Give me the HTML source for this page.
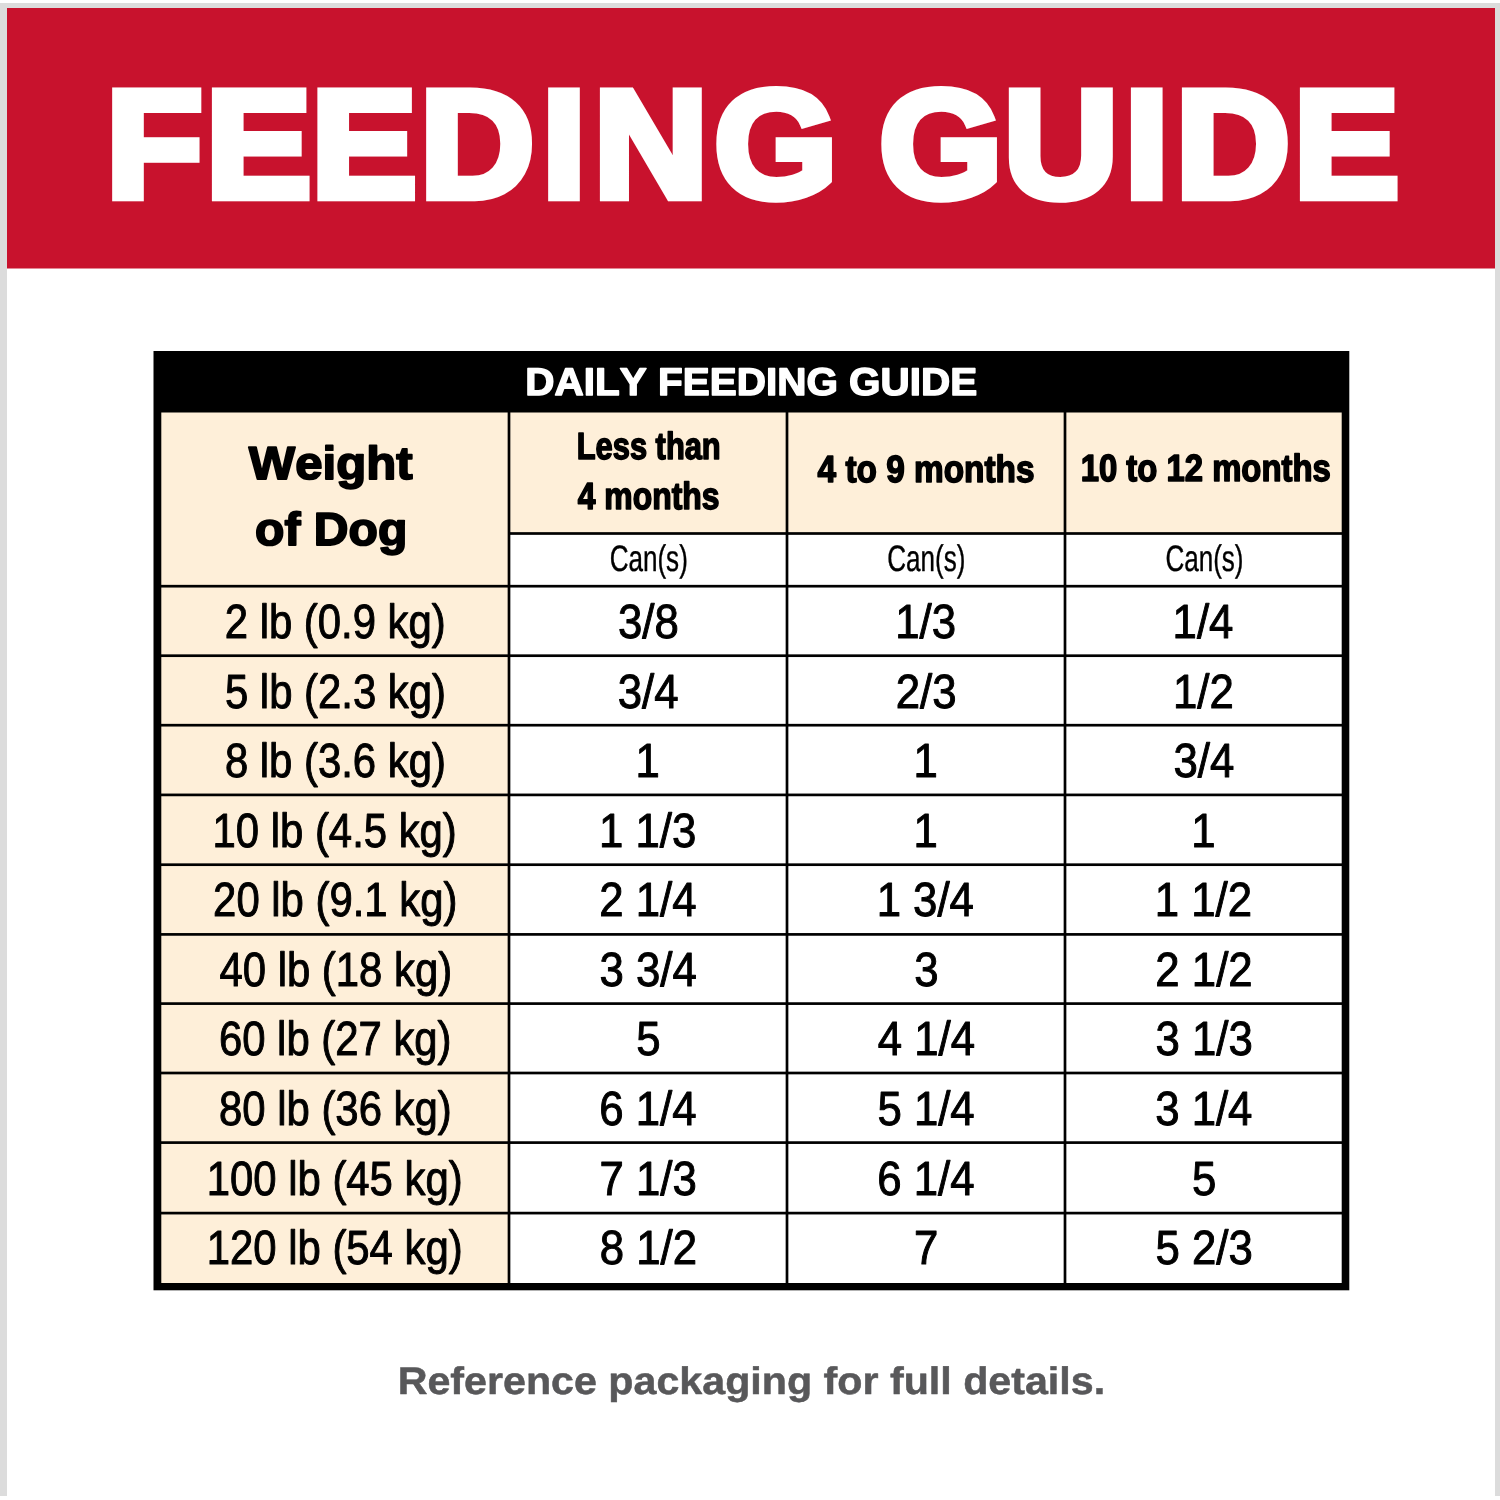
<!DOCTYPE html>
<html><head><meta charset="utf-8"><title>Feeding Guide</title>
<style>
html,body{margin:0;padding:0;background:#fff;}
svg{display:block;font-family:"Liberation Sans",sans-serif;font-kerning:none;text-rendering:geometricPrecision;}
text{white-space:pre;}
</style></head><body>
<svg width="1500" height="1500" viewBox="0 0 1500 1500">
<rect x="0" y="0" width="1500" height="1500" fill="#ffffff"/>
<rect x="0" y="3" width="1500" height="1493" fill="#dcdcdc"/>
<rect x="7" y="8" width="1488" height="1492" fill="#ffffff"/>
<rect x="0" y="1496" width="1500" height="4" fill="#ffffff"/>
<rect x="7" y="8" width="1488" height="260.5" fill="#c8122d"/>
<text transform="scale(1.035 1)" x="102.39 198.72 300.84 405.83 523.69 573.67 690.11 769.82 849.53 969.84 1086.68 1136.12 1249.97" y="197.05" font-size="152.9" font-weight="bold" fill="#fff" stroke="#fff" stroke-width="8.5" stroke-linejoin="miter">FEEDING GUIDE</text>
<rect x="153.5" y="351" width="1195.8" height="939.3" fill="#000"/>
<rect x="161.3" y="412.5" width="346.35" height="172.35" fill="#feefd9"/>
<rect x="510.35" y="412.5" width="275.3" height="119.65" fill="#feefd9"/>
<rect x="510.35" y="534.85" width="275.3" height="50" fill="#fff"/>
<rect x="788.35" y="412.5" width="275.3" height="119.65" fill="#feefd9"/>
<rect x="788.35" y="534.85" width="275.3" height="50" fill="#fff"/>
<rect x="1066.35" y="412.5" width="275.35" height="119.65" fill="#feefd9"/>
<rect x="1066.35" y="534.85" width="275.35" height="50" fill="#fff"/>
<rect x="161.3" y="587.55" width="346.35" height="66.8" fill="#feefd9"/>
<rect x="510.35" y="587.55" width="275.3" height="66.8" fill="#fff"/>
<rect x="788.35" y="587.55" width="275.3" height="66.8" fill="#fff"/>
<rect x="1066.35" y="587.55" width="275.35" height="66.8" fill="#fff"/>
<rect x="161.3" y="657.05" width="346.35" height="66.8" fill="#feefd9"/>
<rect x="510.35" y="657.05" width="275.3" height="66.8" fill="#fff"/>
<rect x="788.35" y="657.05" width="275.3" height="66.8" fill="#fff"/>
<rect x="1066.35" y="657.05" width="275.35" height="66.8" fill="#fff"/>
<rect x="161.3" y="726.55" width="346.35" height="67" fill="#feefd9"/>
<rect x="510.35" y="726.55" width="275.3" height="67" fill="#fff"/>
<rect x="788.35" y="726.55" width="275.3" height="67" fill="#fff"/>
<rect x="1066.35" y="726.55" width="275.35" height="67" fill="#fff"/>
<rect x="161.3" y="796.25" width="346.35" height="67.1" fill="#feefd9"/>
<rect x="510.35" y="796.25" width="275.3" height="67.1" fill="#fff"/>
<rect x="788.35" y="796.25" width="275.3" height="67.1" fill="#fff"/>
<rect x="1066.35" y="796.25" width="275.35" height="67.1" fill="#fff"/>
<rect x="161.3" y="866.05" width="346.35" height="67" fill="#feefd9"/>
<rect x="510.35" y="866.05" width="275.3" height="67" fill="#fff"/>
<rect x="788.35" y="866.05" width="275.3" height="67" fill="#fff"/>
<rect x="1066.35" y="866.05" width="275.35" height="67" fill="#fff"/>
<rect x="161.3" y="935.75" width="346.35" height="66.5" fill="#feefd9"/>
<rect x="510.35" y="935.75" width="275.3" height="66.5" fill="#fff"/>
<rect x="788.35" y="935.75" width="275.3" height="66.5" fill="#fff"/>
<rect x="1066.35" y="935.75" width="275.35" height="66.5" fill="#fff"/>
<rect x="161.3" y="1004.95" width="346.35" height="66.7" fill="#feefd9"/>
<rect x="510.35" y="1004.95" width="275.3" height="66.7" fill="#fff"/>
<rect x="788.35" y="1004.95" width="275.3" height="66.7" fill="#fff"/>
<rect x="1066.35" y="1004.95" width="275.35" height="66.7" fill="#fff"/>
<rect x="161.3" y="1074.35" width="346.35" height="66.9" fill="#feefd9"/>
<rect x="510.35" y="1074.35" width="275.3" height="66.9" fill="#fff"/>
<rect x="788.35" y="1074.35" width="275.3" height="66.9" fill="#fff"/>
<rect x="1066.35" y="1074.35" width="275.35" height="66.9" fill="#fff"/>
<rect x="161.3" y="1143.95" width="346.35" height="67.8" fill="#feefd9"/>
<rect x="510.35" y="1143.95" width="275.3" height="67.8" fill="#fff"/>
<rect x="788.35" y="1143.95" width="275.3" height="67.8" fill="#fff"/>
<rect x="1066.35" y="1143.95" width="275.35" height="67.8" fill="#fff"/>
<rect x="161.3" y="1214.45" width="346.35" height="68.55" fill="#feefd9"/>
<rect x="510.35" y="1214.45" width="275.3" height="68.55" fill="#fff"/>
<rect x="788.35" y="1214.45" width="275.3" height="68.55" fill="#fff"/>
<rect x="1066.35" y="1214.45" width="275.35" height="68.55" fill="#fff"/>
<text transform="translate(525.29 395.20) scale(1.0492 1)" font-size="38.6" font-weight="bold" fill="#fff" stroke="#fff" stroke-width="1.4" stroke-linejoin="round">DAILY FEEDING GUIDE</text>
<text transform="translate(248.85 478.90) scale(1.0619 1)" font-size="46.3" font-weight="bold" fill="#000" stroke="#000" stroke-width="1.8" stroke-linejoin="round">Weight</text>
<text transform="translate(255.02 544.90) scale(1.0391 1)" font-size="46.3" font-weight="bold" fill="#000" stroke="#000" stroke-width="1.8" stroke-linejoin="round">of Dog</text>
<text transform="translate(576.74 459.40) scale(0.8160 1)" font-size="37.8" font-weight="bold" fill="#000" stroke="#000" stroke-width="1.6" stroke-linejoin="round">Less than</text>
<text transform="translate(577.72 509.40) scale(0.8439 1)" font-size="37.8" font-weight="bold" fill="#000" stroke="#000" stroke-width="1.6" stroke-linejoin="round">4 months</text>
<text transform="translate(817.59 481.50) scale(0.8830 1)" font-size="37.8" font-weight="bold" fill="#000" stroke="#000" stroke-width="1.6" stroke-linejoin="round">4 to 9 months</text>
<text transform="translate(1080.63 481.30) scale(0.8695 1)" font-size="37.8" font-weight="bold" fill="#000" stroke="#000" stroke-width="1.6" stroke-linejoin="round">10 to 12 months</text>
<text transform="translate(609.68 570.90) scale(0.7038 1)" font-size="37.0" font-weight="normal" fill="#000" stroke="#000" stroke-width="0.4" stroke-linejoin="round">Can(s)</text>
<text transform="translate(887.28 570.90) scale(0.7038 1)" font-size="37.0" font-weight="normal" fill="#000" stroke="#000" stroke-width="0.4" stroke-linejoin="round">Can(s)</text>
<text transform="translate(1165.38 570.90) scale(0.7038 1)" font-size="37.0" font-weight="normal" fill="#000" stroke="#000" stroke-width="0.4" stroke-linejoin="round">Can(s)</text>
<text transform="translate(224.75 638.10) scale(0.8738 1)" font-size="47.9" font-weight="normal" fill="#000" stroke="#000" stroke-width="1.0" stroke-linejoin="round">2 lb (0.9 kg)</text>
<text transform="translate(618.02 638.10) scale(0.9131 1)" font-size="47.9" font-weight="normal" fill="#000" stroke="#000" stroke-width="1.0" stroke-linejoin="round">3/8</text>
<text transform="translate(895.19 638.10) scale(0.9131 1)" font-size="47.9" font-weight="normal" fill="#000" stroke="#000" stroke-width="1.0" stroke-linejoin="round">1/3</text>
<text transform="translate(1172.57 638.10) scale(0.9131 1)" font-size="47.9" font-weight="normal" fill="#000" stroke="#000" stroke-width="1.0" stroke-linejoin="round">1/4</text>
<text transform="translate(224.96 707.65) scale(0.8738 1)" font-size="47.9" font-weight="normal" fill="#000" stroke="#000" stroke-width="1.0" stroke-linejoin="round">5 lb (2.3 kg)</text>
<text transform="translate(617.71 707.65) scale(0.9131 1)" font-size="47.9" font-weight="normal" fill="#000" stroke="#000" stroke-width="1.0" stroke-linejoin="round">3/4</text>
<text transform="translate(895.76 707.65) scale(0.9131 1)" font-size="47.9" font-weight="normal" fill="#000" stroke="#000" stroke-width="1.0" stroke-linejoin="round">2/3</text>
<text transform="translate(1173.03 707.65) scale(0.9131 1)" font-size="47.9" font-weight="normal" fill="#000" stroke="#000" stroke-width="1.0" stroke-linejoin="round">1/2</text>
<text transform="translate(224.89 777.20) scale(0.8738 1)" font-size="47.9" font-weight="normal" fill="#000" stroke="#000" stroke-width="1.0" stroke-linejoin="round">8 lb (3.6 kg)</text>
<text transform="translate(635.54 777.20) scale(0.9131 1)" font-size="47.9" font-weight="normal" fill="#000" stroke="#000" stroke-width="1.0" stroke-linejoin="round">1</text>
<text transform="translate(913.54 777.20) scale(0.9131 1)" font-size="47.9" font-weight="normal" fill="#000" stroke="#000" stroke-width="1.0" stroke-linejoin="round">1</text>
<text transform="translate(1173.41 777.20) scale(0.9131 1)" font-size="47.9" font-weight="normal" fill="#000" stroke="#000" stroke-width="1.0" stroke-linejoin="round">3/4</text>
<text transform="translate(212.56 846.75) scale(0.8738 1)" font-size="47.9" font-weight="normal" fill="#000" stroke="#000" stroke-width="1.0" stroke-linejoin="round">10 lb (4.5 kg)</text>
<text transform="translate(598.96 846.75) scale(0.9131 1)" font-size="47.9" font-weight="normal" fill="#000" stroke="#000" stroke-width="1.0" stroke-linejoin="round">1 1/3</text>
<text transform="translate(913.54 846.75) scale(0.9131 1)" font-size="47.9" font-weight="normal" fill="#000" stroke="#000" stroke-width="1.0" stroke-linejoin="round">1</text>
<text transform="translate(1191.24 846.75) scale(0.9131 1)" font-size="47.9" font-weight="normal" fill="#000" stroke="#000" stroke-width="1.0" stroke-linejoin="round">1</text>
<text transform="translate(213.11 916.30) scale(0.8738 1)" font-size="47.9" font-weight="normal" fill="#000" stroke="#000" stroke-width="1.0" stroke-linejoin="round">20 lb (9.1 kg)</text>
<text transform="translate(599.20 916.30) scale(0.9131 1)" font-size="47.9" font-weight="normal" fill="#000" stroke="#000" stroke-width="1.0" stroke-linejoin="round">2 1/4</text>
<text transform="translate(876.64 916.30) scale(0.9131 1)" font-size="47.9" font-weight="normal" fill="#000" stroke="#000" stroke-width="1.0" stroke-linejoin="round">1 3/4</text>
<text transform="translate(1154.80 916.30) scale(0.9131 1)" font-size="47.9" font-weight="normal" fill="#000" stroke="#000" stroke-width="1.0" stroke-linejoin="round">1 1/2</text>
<text transform="translate(219.49 985.85) scale(0.8738 1)" font-size="47.9" font-weight="normal" fill="#000" stroke="#000" stroke-width="1.0" stroke-linejoin="round">40 lb (18 kg)</text>
<text transform="translate(599.47 985.85) scale(0.9131 1)" font-size="47.9" font-weight="normal" fill="#000" stroke="#000" stroke-width="1.0" stroke-linejoin="round">3 3/4</text>
<text transform="translate(914.27 985.85) scale(0.9131 1)" font-size="47.9" font-weight="normal" fill="#000" stroke="#000" stroke-width="1.0" stroke-linejoin="round">3</text>
<text transform="translate(1155.36 985.85) scale(0.9131 1)" font-size="47.9" font-weight="normal" fill="#000" stroke="#000" stroke-width="1.0" stroke-linejoin="round">2 1/2</text>
<text transform="translate(218.91 1055.40) scale(0.8738 1)" font-size="47.9" font-weight="normal" fill="#000" stroke="#000" stroke-width="1.0" stroke-linejoin="round">60 lb (27 kg)</text>
<text transform="translate(636.18 1055.40) scale(0.9131 1)" font-size="47.9" font-weight="normal" fill="#000" stroke="#000" stroke-width="1.0" stroke-linejoin="round">5</text>
<text transform="translate(877.80 1055.40) scale(0.9131 1)" font-size="47.9" font-weight="normal" fill="#000" stroke="#000" stroke-width="1.0" stroke-linejoin="round">4 1/4</text>
<text transform="translate(1155.49 1055.40) scale(0.9131 1)" font-size="47.9" font-weight="normal" fill="#000" stroke="#000" stroke-width="1.0" stroke-linejoin="round">3 1/3</text>
<text transform="translate(219.06 1124.95) scale(0.8738 1)" font-size="47.9" font-weight="normal" fill="#000" stroke="#000" stroke-width="1.0" stroke-linejoin="round">80 lb (36 kg)</text>
<text transform="translate(599.19 1124.95) scale(0.9131 1)" font-size="47.9" font-weight="normal" fill="#000" stroke="#000" stroke-width="1.0" stroke-linejoin="round">6 1/4</text>
<text transform="translate(877.43 1124.95) scale(0.9131 1)" font-size="47.9" font-weight="normal" fill="#000" stroke="#000" stroke-width="1.0" stroke-linejoin="round">5 1/4</text>
<text transform="translate(1155.17 1124.95) scale(0.9131 1)" font-size="47.9" font-weight="normal" fill="#000" stroke="#000" stroke-width="1.0" stroke-linejoin="round">3 1/4</text>
<text transform="translate(206.74 1194.50) scale(0.8738 1)" font-size="47.9" font-weight="normal" fill="#000" stroke="#000" stroke-width="1.0" stroke-linejoin="round">100 lb (45 kg)</text>
<text transform="translate(599.50 1194.50) scale(0.9131 1)" font-size="47.9" font-weight="normal" fill="#000" stroke="#000" stroke-width="1.0" stroke-linejoin="round">7 1/3</text>
<text transform="translate(877.19 1194.50) scale(0.9131 1)" font-size="47.9" font-weight="normal" fill="#000" stroke="#000" stroke-width="1.0" stroke-linejoin="round">6 1/4</text>
<text transform="translate(1191.88 1194.50) scale(0.9131 1)" font-size="47.9" font-weight="normal" fill="#000" stroke="#000" stroke-width="1.0" stroke-linejoin="round">5</text>
<text transform="translate(206.74 1264.05) scale(0.8738 1)" font-size="47.9" font-weight="normal" fill="#000" stroke="#000" stroke-width="1.0" stroke-linejoin="round">120 lb (54 kg)</text>
<text transform="translate(599.81 1264.05) scale(0.9131 1)" font-size="47.9" font-weight="normal" fill="#000" stroke="#000" stroke-width="1.0" stroke-linejoin="round">8 1/2</text>
<text transform="translate(914.12 1264.05) scale(0.9131 1)" font-size="47.9" font-weight="normal" fill="#000" stroke="#000" stroke-width="1.0" stroke-linejoin="round">7</text>
<text transform="translate(1155.45 1264.05) scale(0.9131 1)" font-size="47.9" font-weight="normal" fill="#000" stroke="#000" stroke-width="1.0" stroke-linejoin="round">5 2/3</text>
<text transform="translate(397.69 1394.10) scale(1.0731 1)" font-size="38.4" font-weight="bold" fill="#58585a" stroke="#58585a" stroke-width="0.5" stroke-linejoin="round">Reference packaging for full details.</text>
</svg>
</body></html>
